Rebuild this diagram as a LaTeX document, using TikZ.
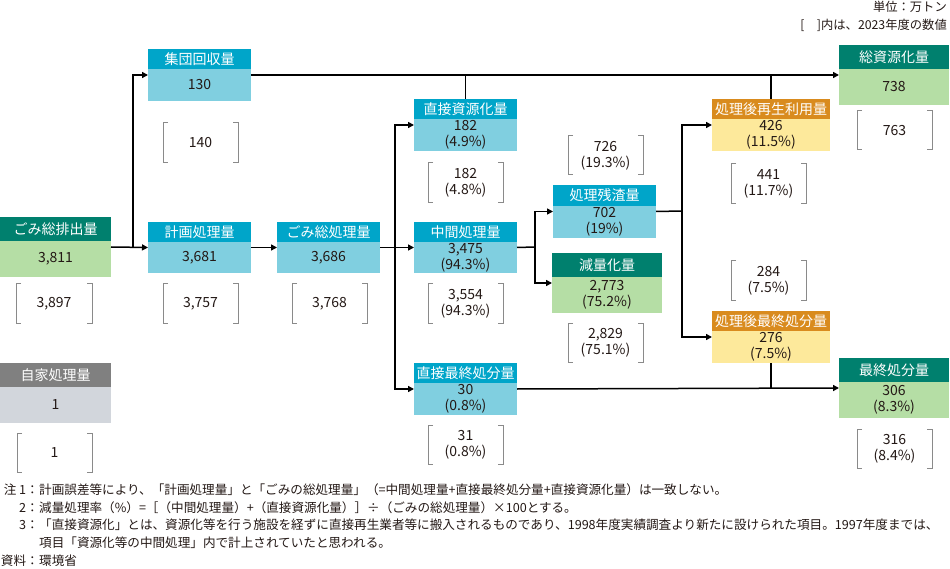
\documentclass[tikz,border=0pt]{standalone}
\usepackage{fontspec}
\setmainfont{Noto Sans CJK JP}
\usetikzlibrary{arrows.meta}
\definecolor{tealH}{HTML}{00806E}
\definecolor{tealB}{HTML}{B5DEA5}
\definecolor{blueH}{HTML}{00A5C9}
\definecolor{blueB}{HTML}{80CFE0}
\definecolor{orangeH}{HTML}{D98B1E}
\definecolor{orangeB}{HTML}{FDE99B}
\definecolor{grayH}{HTML}{808080}
\definecolor{grayB}{HTML}{D2D6DC}
\definecolor{txt}{HTML}{231815}
\definecolor{brgray}{HTML}{8A8A8A}
\tikzset{
  base/.style={inner sep=0pt, outer sep=0pt, align=center, font=\fontsize{14}{16}\selectfont},
  frame/.style={inner sep=0pt, outer sep=0pt},
  headteal/.style={base, fill=tealH, text=white},
  bodyteal/.style={base, fill=tealB, text=txt},
  headblue/.style={base, fill=blueH, text=white},
  bodyblue/.style={base, fill=blueB, text=txt},
  headorange/.style={base, fill=orangeH, text=white},
  bodyorange/.style={base, fill=orangeB, text=txt},
  headgray/.style={base, fill=grayH, text=white},
  bodygray/.style={base, fill=grayB, text=txt},
  conn/.style={line width=1.5pt, draw=black},
  arr/.style={conn, -{Triangle[length=6pt,width=6pt]}},
  brkline/.style={draw=brgray, line width=1pt},
  brnode/.style={base, text=txt},
  note/.style={font=\fontsize{12.6}{14}\selectfont, inner sep=0pt, text=txt},
  unit/.style={font=\fontsize{12.3}{14}\selectfont, inner sep=0pt, text=txt},
}
\newcommand{\flowbox}[9]{%
  \node[frame, minimum width=#4pt, minimum height=#5pt+#6pt, anchor=north west] (#1) at (#2,#3) {};
  \node[head#7, minimum width=#4pt, minimum height=#5pt, anchor=north west] (#1-h) at (#1.north west) {#8};
  \node[body#7, minimum width=#4pt, minimum height=#6pt, anchor=north west] (#1-b) at (#1-h.south west) {#9};
}
\newcommand{\bracketpair}[6]{%
  \node[brnode, minimum width=#4pt, minimum height=#5pt, anchor=north west] (#1) at (#2,#3) {#6};
  \draw[brkline] ([xshift=5pt]#1.north west) -- (#1.north west) -- (#1.south west) -- ([xshift=5pt]#1.south west);
  \draw[brkline] ([xshift=-5pt]#1.north east) -- (#1.north east) -- (#1.south east) -- ([xshift=-5pt]#1.south east);
}
\begin{document}
\begin{tikzpicture}[x=1pt,y=-1pt]
\useasboundingbox (0,0) rectangle (950,569);
% header notes
\node[unit, anchor=east] (unitA) at (947,7) {単位：万トン};
\node[unit, anchor=east] (unitB) at (947,25) {[　]内は、2023年度の数値};
% boxes
\flowbox{haishutsu}{0}{217}{111}{24}{36}{teal}{ごみ総排出量}{3,811}
\flowbox{jika}{0}{363}{111}{24}{36}{gray}{自家処理量}{1}
\flowbox{shudan}{148}{49}{103}{20}{32}{blue}{集団回収量}{130}
\flowbox{keikaku}{148}{222}{103}{20}{31}{blue}{計画処理量}{3,681}
\flowbox{soshori}{277}{222}{103}{20}{31}{blue}{ごみ総処理量}{3,686}
\flowbox{chokushigen}{414}{99}{103}{20}{32}{blue}{直接資源化量}{182\\(4.9\%)}
\flowbox{chukan}{414}{222}{103}{20}{31}{blue}{中間処理量}{3,475\\(94.3\%)}
\flowbox{chokusai}{414}{363}{103}{20}{32}{blue}{直接最終処分量}{30\\(0.8\%)}
\flowbox{zansa}{553}{185}{103}{21}{32}{blue}{処理残渣量}{702\\(19\%)}
\flowbox{genryo}{552}{253}{110}{24}{36}{teal}{減量化量}{2,773\\(75.2\%)}
\flowbox{saisei}{712}{99}{118}{20}{32}{orange}{処理後再生利用量}{426\\(11.5\%)}
\flowbox{saishu}{712}{311}{118}{20}{32}{orange}{処理後最終処分量}{276\\(7.5\%)}
\flowbox{soshigen}{839}{45}{110}{24}{36}{teal}{総資源化量}{738}
\flowbox{saishushobun}{839}{358}{110}{24}{36}{teal}{最終処分量}{306\\(8.3\%)}
% brackets
\bracketpair{bHaishutsu}{16}{284}{76}{39}{3,897}
\bracketpair{bJika}{17}{433}{75}{39}{1}
\bracketpair{bShudan}{163}{123}{75}{40}{140}
\bracketpair{bKeikaku}{163}{284}{75}{39}{3,757}
\bracketpair{bSoshori}{292}{284}{75}{39}{3,768}
\bracketpair{bChokushigen}{428}{163}{75}{40}{182\\(4.8\%)}
\bracketpair{bChukan}{428}{284}{75}{39}{3,554\\(94.3\%)}
\bracketpair{bChokusai}{428}{425}{75}{39}{31\\(0.8\%)}
\bracketpair{bZansa}{568}{136}{75}{39}{726\\(19.3\%)}
\bracketpair{bGenryo}{568}{323}{75}{39}{2,829\\(75.1\%)}
\bracketpair{bSaisei}{731}{164}{75}{40}{441\\(11.7\%)}
\bracketpair{bSaishu}{731}{261}{75}{39}{284\\(7.5\%)}
\bracketpair{bSoshigen}{857}{111}{75}{39}{763}
\bracketpair{bSaishushobun}{857}{429}{75}{39}{316\\(8.4\%)}
% junction coordinates
\coordinate (j1) at (133,247);
\coordinate (j2) at (395,247);
\coordinate (j3) at (535,247);
\coordinate (j4) at (682,211);
% connectors
\draw[arr] (haishutsu.east) -- (keikaku.west);
\draw[arr] (j1) |- (shudan.west);
\draw[arr] (keikaku.east) -- (soshori.west);
\draw[arr] (soshori.east) -- (chukan.west);
\draw[arr] (j2) |- (chokushigen.west);
\draw[arr] (j2) |- (chokusai.west);
\draw[conn] (chukan.east) -- (j3);
\draw[arr] (j3) |- (zansa.west);
\draw[arr] (j3) |- (genryo.west);
\draw[conn] (zansa.east) -- (j4);
\draw[arr] (j4) |- (saisei.west);
\draw[arr] (j4) |- (saishu.west);
\draw[arr] (shudan.east) -- (soshigen.west);
\draw[conn] (chokushigen.north) -- (chokushigen.north |- shudan.east);
\draw[conn] (saisei.north) -- (saisei.north |- shudan.east);
\draw[arr] (chokusai.east) -- (saishushobun.west);
\draw[conn] (saishu.south) -- (saishu.south |- saishushobun.west);
% footnotes
\node[note, anchor=east] (fn1l) at (39,490) {注 1：};
\node[note, anchor=west] (fn1) at (39,490) {計画誤差等により、「計画処理量」と「ごみの総処理量」（=中間処理量+直接最終処分量+直接資源化量）は一致しない。};
\node[note, anchor=east] (fn2l) at (39,508) {2：};
\node[note, anchor=west] (fn2) at (39,508) {減量処理率（\%）=［（中間処理量）+（直接資源化量）］÷（ごみの総処理量）×100とする。};
\node[note, anchor=east] (fn3l) at (39,525) {3：};
\node[note, anchor=west] (fn3) at (39,525) {「直接資源化」とは、資源化等を行う施設を経ずに直接再生業者等に搬入されるものであり、1998年度実績調査より新たに設けられた項目。1997年度までは、};
\node[note, anchor=west] (fn3b) at (39,543) {項目「資源化等の中間処理」内で計上されていたと思われる。};
\node[note, anchor=east] (srcl) at (39,561) {資料：};
\node[note, anchor=west] (src) at (39,561) {環境省};
\end{tikzpicture}
\end{document}
